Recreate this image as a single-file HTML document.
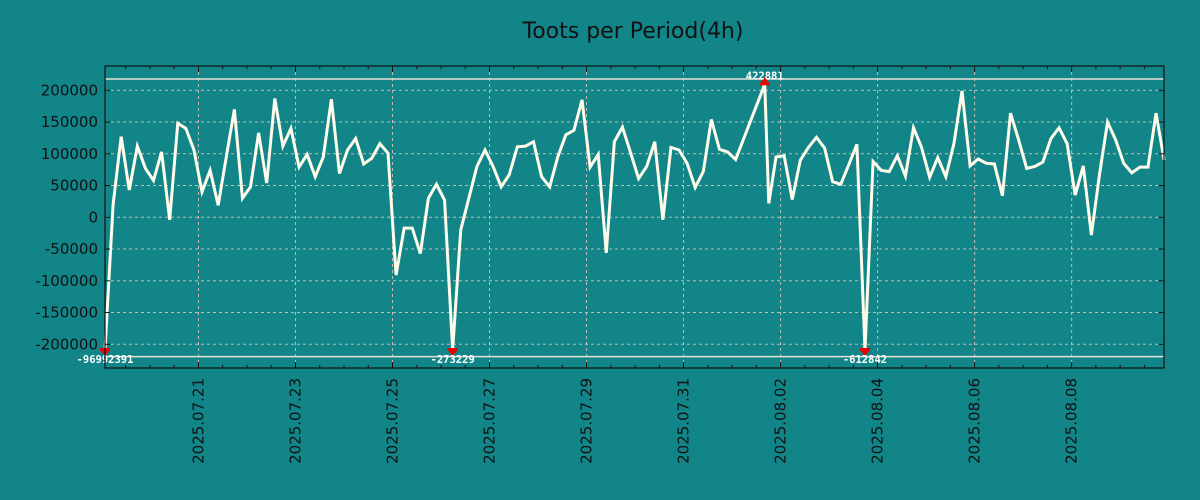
<!DOCTYPE html>
<html><head><meta charset="utf-8"><style>
body{margin:0;background:#128589;}
svg{display:block;font-family:"DejaVu Sans","Liberation Sans",sans-serif;}
</style></head><body>
<svg id="chart" width="1200" height="500" viewBox="0 0 1200 500">
<rect x="0" y="0" width="1200" height="500" fill="#128589"/>
<text x="633" y="38" text-anchor="middle" font-size="22" fill="#111">Toots per Period(4h)</text>
<g id="grid"></g><g id="series"></g><g id="axes"></g>
</svg>
<script>
const periods=[0,1,2,3,4,5,6,7,8,9,10,11,12,13,14,15,16,17,18,19,20,21,22,23,24,25,26,27,28,29,30,31,32,33,34,35,36,37,38,39,40,41,42,43,44,45,46,47,48,49,50,51,52,53,54,55,56,57,58,59,60,61,62,63,64,65,66,67,68,69,70,71,72,73,74,75,76,77,78,81.6,82.1,83,84,85,86,87,88,89,90,91,92,93,94,95,96,97,98,99,100,101,102,103,104,105,106,107,108,109,110,111,112,113,114,115,116,117,118,119,120,121,122,123,124,125,126,127,128,129,130,131];
const values=[-96992391,20000,127000,43000,112000,77000,58000,103000,-4000,148000,140000,106000,40000,74000,19000,95000,170000,30000,48000,133000,54000,187000,112000,140000,79000,99000,64000,95000,186000,69000,106000,124000,84000,93000,116000,101000,-91000,-17000,-17000,-57000,30000,52000,27000,-273229,-20000,30000,80000,106000,80000,48000,67000,111000,112000,119000,64000,48000,95000,130000,137000,185000,79000,99000,-56000,119000,142000,102000,61000,80000,119000,-4000,110000,106000,85000,47000,72000,154000,107000,103000,91000,422881,22000,95000,97000,28000,90000,110000,126000,109000,56000,52000,83000,115000,-612842,88000,74000,72000,97000,65000,141000,110000,63000,94000,64000,116000,199000,81000,92000,85000,84000,34000,164000,122000,77000,80000,87000,124000,141000,116000,35000,81000,-28000,67000,150000,122000,85000,70000,79000,79000,164000,90000];
const yTicks=[-200000,-150000,-100000,-50000,0,50000,100000,150000,200000];
const xTickLabels=["2025.07.21","2025.07.23","2025.07.25","2025.07.27","2025.07.29","2025.07.31","2025.08.02","2025.08.04","2025.08.06","2025.08.08"];
const clipHi=210000, clipLo=-210000;
const NS="http://www.w3.org/2000/svg";
const L=105,R=1164,T=66,B=368;
const PX_PER_PERIOD=8.085, TICK0=11.56; // period index of 2025.07.21 00:00
const xs=p=>L+p*PX_PER_PERIOD;
const ys=v=>217.3-v/50000*31.75;
function mk(tag,attrs,parent){const e=document.createElementNS(NS,tag);for(const k in attrs)e.setAttribute(k,attrs[k]);parent.appendChild(e);return e;}
const grid=document.getElementById('grid'),series=document.getElementById('series'),axes=document.getElementById('axes');
// y grid + labels
yTicks.forEach(v=>{const y=ys(v);
 const g=mk('line',{x1:L,x2:R,y1:y,y2:y,stroke:'#c8b8b0','stroke-width':1,'stroke-dasharray':'3,3'},grid);
 
 
 const t=mk('text',{x:98,y:y+5,'text-anchor':'end','font-size':15,fill:'#111'},axes);
 
 
 t.textContent=String(v);
 mk('line',{x1:L,x2:L+5,y1:y,y2:y,stroke:'#111'},axes);
 mk('line',{x1:R,x2:R-5,y1:y,y2:y,stroke:'#111'},axes);
});
// x grid + labels
xTickLabels.forEach((lab,j)=>{const x=xs(TICK0+j*12);
 const g=mk('line',{x1:x,x2:x,y1:T,y2:B,stroke:'#c8b8b0','stroke-width':1,'stroke-dasharray':'3,3'},grid);
 
 
 const t=mk('text',{x:0,y:0,'text-anchor':'end','font-size':15,fill:'#111',transform:`translate(${x+5},${B+10}) rotate(-90)`},axes);
 
 
 t.textContent=lab;
});
for(let h=-3;h<42;h++){const x=xs(TICK0+h*3);if(x<L||x>R)continue;const len=h%4===0?6:3;
 mk('line',{x1:x,x2:x,y1:T,y2:T+len,stroke:'#111'},axes);mk('line',{x1:x,x2:x,y1:B,y2:B-len,stroke:'#111'},axes);}
// clip lines
[clipHi,clipLo].forEach(v=>{const c=mk('line',{x1:L,x2:R,y1:ys(v)-(v>0?5:-6),y2:ys(v)-(v>0?5:-6),stroke:'#e8e0d8','stroke-width':1.5},grid);
 
 });
const hiY=84.3, loY=350;
// series
const pts=values.map((v,i)=>[xs(periods[i]),v>clipHi?hiY:v<clipLo?loY:ys(v)]);
const line=mk('polyline',{points:pts.map(p=>p.join(',')).join(' '),fill:'none',stroke:'#fffbea','stroke-width':3,'stroke-linejoin':'miter'},series);


values.forEach((v,i)=>{if(v<=clipHi&&v>=clipLo)return;const x=pts[i][0];const up=v>clipHi;const y=up?hiY:loY;
 const m=mk('g',{},series);
 
 
 mk('rect',{x:x-5,y:up?y-2:y-2,width:10,height:3,fill:'#e00'},m);
 mk('polygon',{points:up?`${x-4},${y-2} ${x+4},${y-2} ${x},${y-7}`:`${x-4},${y+1} ${x+4},${y+1} ${x},${y+6}`,fill:'#e00'},m);
 const t=mk('text',{x:x,y:up?y-5:y+13,'text-anchor':'middle','font-size':10.5,'font-weight':'bold',fill:'#fff','font-family':'"DejaVu Sans Mono","Liberation Mono",monospace'},series);
 
 
 t.textContent=String(v);
});
const frame=mk('rect',{x:L,y:T,width:R-L,height:B-T,fill:'none',stroke:'#111','stroke-width':1.2},axes);


</script>
</body></html>
